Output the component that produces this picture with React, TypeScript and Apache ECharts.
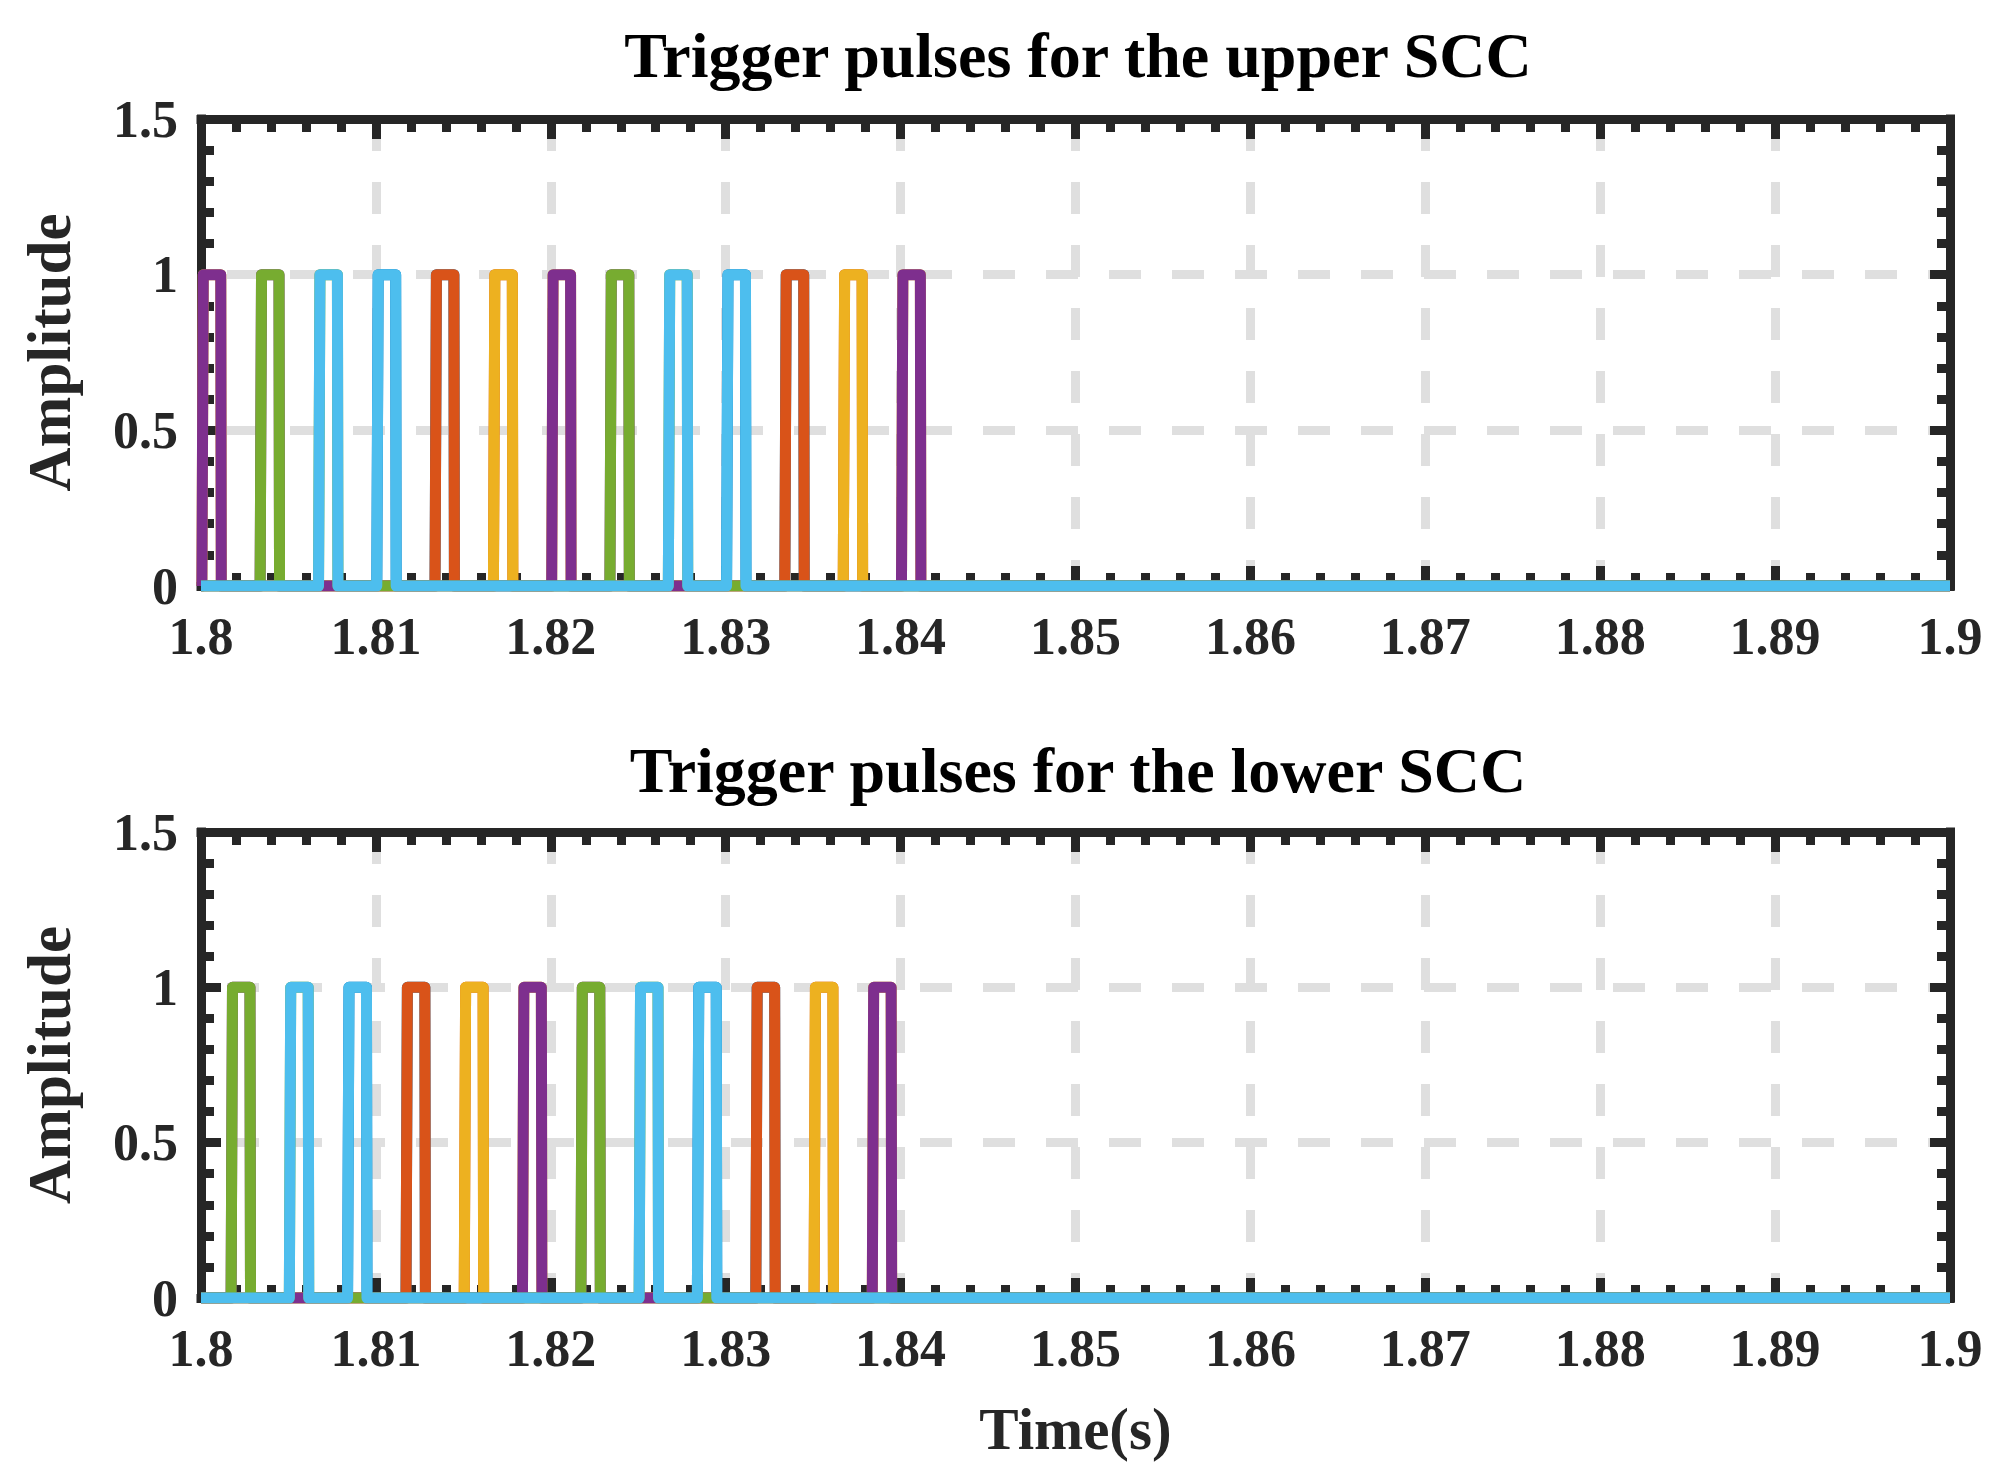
import React, { useEffect, useRef } from "react";
import * as echarts from "echarts";

// ---- data ----
const X_MIN = 1.8;
const X_MAX = 1.9;
const X_TICK = 0.01;
const Y_MIN = 0;
const Y_MAX = 1.5;
const Y_TICK = 0.5;

const seriesNames = ["T1", "T2", "T3", "T4", "T5", "T6"];
const seriesColors = ["#0072BD", "#D95319", "#EDB120", "#7E2F8E", "#77AC30", "#4DBEEE"];

// pulse start times (s) of each thyristor signal, upper SCC
const upperT1 = [1.81005, 1.81338, 1.83005, 1.83338];
const upperT2 = [1.81338, 1.81672, 1.83338, 1.83672];
const upperT3 = [1.80005, 1.81672, 1.82005, 1.83672, 1.84005];
const upperT4 = [1.80005, 1.80338, 1.82005, 1.82338, 1.84005];
const upperT5 = [1.80338, 1.80672, 1.82338, 1.82672];
const upperT6 = [1.80672, 1.81005, 1.82672, 1.83005];

// pulse start times (s), lower SCC
const lowerT1 = [1.80838, 1.81172, 1.82838, 1.83172];
const lowerT2 = [1.81172, 1.81505, 1.83172, 1.83505];
const lowerT3 = [1.81505, 1.81838, 1.83505, 1.83838];
const lowerT4 = [1.80172, 1.81838, 1.82172, 1.83838];
const lowerT5 = [1.80172, 1.80505, 1.82172, 1.82505];
const lowerT6 = [1.80505, 1.80838, 1.82505, 1.82838];

const PULSE_RISE = 0.00008;
const PULSE_HIGH = 0.00100;
const PULSE_FALL = 0.00003;
const PULSE_AMPLITUDE = 1;

const titles = ["Trigger pulses for the upper SCC", "Trigger pulses for the lower SCC"];
const yName = "Amplitude";
const xName = "Time(s)";

function pulseTrain(starts: number[]): number[][] {
  const pts: number[][] = [[X_MIN, 0]];
  for (const s of starts) {
    pts.push([s, 0]);
    pts.push([s + PULSE_RISE, PULSE_AMPLITUDE]);
    pts.push([s + PULSE_RISE + PULSE_HIGH, PULSE_AMPLITUDE]);
    pts.push([s + PULSE_RISE + PULSE_HIGH + PULSE_FALL, 0]);
  }
  pts.push([X_MAX, 0]);
  return pts;
}

const FONT = "'Liberation Serif', 'Times New Roman', serif";
const AXIS_COLOR = "#262626";

export default function App() {
  const ref = useRef<HTMLDivElement>(null);

  useEffect(() => {
    if (!ref.current) return;
    const chart = echarts.init(ref.current, undefined, { renderer: "svg" });

    const grids = [
      { left: 201, top: 119, width: 1749, height: 467 },
      { left: 201, top: 832, width: 1749, height: 466 },
    ];

    const tickCommon = {
      axisLine: { show: true, onZero: false, lineStyle: { color: AXIS_COLOR, width: 9, cap: "square" } },
      axisTick: { show: true, inside: true, length: 20, lineStyle: { color: AXIS_COLOR, width: 9 } },
      minorTick: { show: true, splitNumber: 5, length: 13, lineStyle: { color: AXIS_COLOR, width: 9 } },
    };

    const xAxes: any[] = [];
    const yAxes: any[] = [];
    [0, 1].forEach((g) => {
      xAxes.push({
        type: "value",
        gridIndex: g,
        position: "bottom",
        min: X_MIN,
        max: X_MAX,
        interval: X_TICK,
        ...tickCommon,
        axisLabel: {
          show: true,
          margin: 24,
          fontFamily: FONT,
          fontWeight: "bold",
          fontSize: 52,
          lineHeight: 52,
          color: AXIS_COLOR,
          formatter: (v: number) => String(+v.toFixed(2)),
        },
        splitLine: {
          show: true,
          showMinLine: false,
          showMaxLine: false,
          lineStyle: { color: "#dfdfdf", width: 9, type: [32, 31], dashOffset: 0 },
        },
        name: g === 1 ? xName : "",
        nameLocation: "middle",
        nameGap: 101,
        nameTextStyle: { fontFamily: FONT, fontWeight: "bold", fontSize: 59, lineHeight: 59, color: AXIS_COLOR },
      });
      xAxes.push({
        type: "value",
        gridIndex: g,
        position: "top",
        min: X_MIN,
        max: X_MAX,
        interval: X_TICK,
        ...tickCommon,
        axisLabel: { show: false },
        splitLine: { show: false },
      });
      yAxes.push({
        type: "value",
        gridIndex: g,
        position: "left",
        min: Y_MIN,
        max: Y_MAX,
        interval: Y_TICK,
        ...tickCommon,
        axisLabel: {
          show: true,
          margin: 23,
          fontFamily: FONT,
          fontWeight: "bold",
          fontSize: 52,
          lineHeight: 52,
          padding: [0, 0, 16, 0],
          color: AXIS_COLOR,
          formatter: (v: number) => String(+v.toFixed(1)),
        },
        splitLine: {
          show: true,
          showMinLine: false,
          showMaxLine: false,
          lineStyle: { color: "#dfdfdf", width: 9, type: [32, 31], dashOffset: 37 },
        },
        name: yName,
        nameLocation: "middle",
        nameRotate: 90,
        nameGap: 121,
        nameTextStyle: { fontFamily: FONT, fontWeight: "bold", fontSize: 61, lineHeight: 61, color: AXIS_COLOR },
      });
      yAxes.push({
        type: "value",
        gridIndex: g,
        position: "right",
        min: Y_MIN,
        max: Y_MAX,
        interval: Y_TICK,
        ...tickCommon,
        axisLabel: { show: false },
        splitLine: { show: false },
      });
    });

    const upper = [upperT1, upperT2, upperT3, upperT4, upperT5, upperT6];
    const lower = [lowerT1, lowerT2, lowerT3, lowerT4, lowerT5, lowerT6];

    const series: any[] = [];
    [upper, lower].forEach((group, g) => {
      group.forEach((starts, i) => {
        series.push({
          type: "line",
          name: seriesNames[i],
          xAxisIndex: g * 2,
          yAxisIndex: g * 2,
          data: pulseTrain(starts),
          symbol: "none",
          showSymbol: false,
          lineStyle: { color: seriesColors[i], width: 11, join: "round", cap: "butt" },
          itemStyle: { color: seriesColors[i] },
        });
      });
    });

    const titleStyle = { fontFamily: FONT, fontWeight: "bold", fontSize: 64, lineHeight: 64, color: "#000000" };

    chart.setOption({
      animation: false,
      backgroundColor: "#ffffff",
      title: [
        { text: titles[0], left: 1078, top: 23, textAlign: "center", padding: 0, textStyle: titleStyle },
        { text: titles[1], left: 1078, top: 738, textAlign: "center", padding: 0, textStyle: titleStyle },
      ],
      grid: grids,
      xAxis: xAxes,
      yAxis: yAxes,
      series,
    });

    return () => chart.dispose();
  }, []);

  return (
    <div
      ref={ref}
      style={{ position: "fixed", left: 0, top: 0, width: 2012, height: 1476, background: "#fff" }}
    />
  );
}
